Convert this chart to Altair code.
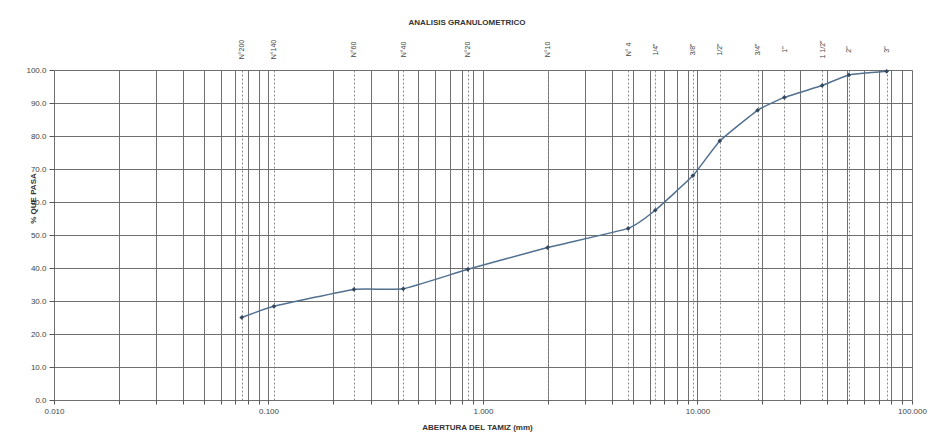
import altair as alt
import pandas as pd

# Sieve data
sieve_names = ["N°200", "N°140", "N°60", "N°40", "N°20", "N°10", "N° 4",
               "1/4\"", "3/8\"", "1/2\"", "3/4\"", "1\"", "1 1/2\"", "2\"", "3\""]
sieve_mm = [0.075, 0.106, 0.25, 0.425, 0.85, 2.0, 4.75,
            6.35, 9.525, 12.7, 19.05, 25.4, 38.1, 50.8, 76.2]
pct_pass = [25.0, 28.4, 33.5, 33.7, 39.6, 46.2, 52.0,
            57.5, 68.0, 78.5, 87.8, 91.7, 95.3, 98.5, 99.6]

# log grid tick values (1..9 x each decade)
grid_values = [round(m * 10 ** k, 6) for k in range(-2, 2) for m in range(1, 10)] + [100.0]
decade_labels = [0.01, 0.1, 1.0, 10.0, 100.0]
y_ticks = list(range(0, 101, 10))

df = pd.DataFrame({"mm": sieve_mm, "pct": pct_pass, "name": sieve_names})

FONT = "Liberation Sans"

label_expr = "".join(
    f"datum.value == {v} ? '{n}' : " for v, n in zip(sieve_mm, sieve_names)
) + "''"

x_scale = alt.Scale(type="log", domain=[0.01, 100], nice=False)
y_scale = alt.Scale(domain=[0, 100], nice=False)

base_x_axis = alt.Axis(
    values=grid_values,
    labelExpr="indexof(" + str(decade_labels) + ", datum.value) >= 0 ? format(datum.value, '.3f') : ''",
    grid=True, gridColor="#6f6f6f", gridWidth=1,
    tickColor="#555", tickSize=4, domain=False,
    labelFontSize=8, labelColor="#444", labelFont=FONT, labelPadding=3,
    labelFlush=False, labelOverlap=False,
    title="ABERTURA DEL TAMIZ (mm)", titleFont=FONT, titleFontSize=8,
    titleFontWeight="bold", titleColor="#333",
    titleX=423, titleY=27, titleAnchor="middle", titleAlign="center",
    titleBaseline="middle",
)

y_axis = alt.Axis(
    values=y_ticks, format=".1f", tickCount=11,
    grid=True, gridColor="#6f6f6f", gridWidth=1,
    tickColor="#555", tickSize=5, domain=False,
    labelFontSize=8, labelColor="#444", labelFont=FONT, labelPadding=3,
    labelOverlap=False, labelFlush=False,
    title="% QUE PASA", titleFont=FONT, titleFontSize=8, titleFontWeight="bold",
    titleColor="#333", titleAngle=270, titleX=-21, titleY=128,
    titleAlign="center", titleBaseline="middle",
)

line = alt.Chart(df).mark_line(
    color="#52708f", strokeWidth=1.5, interpolate="cardinal", tension=0.6
).encode(
    x=alt.X("mm:Q", scale=x_scale, axis=base_x_axis),
    y=alt.Y("pct:Q", scale=y_scale, axis=y_axis),
)

top_axis = alt.Axis(
    orient="top", values=sieve_mm,
    labelExpr=label_expr,
    labelAngle=270, labelAlign="center", labelBaseline="middle", labelPadding=21,
    labelFontSize=7, labelColor="#444", labelFont=FONT,
    labelOverlap=False, labelFlush=False,
    ticks=False, domain=False,
    grid=True, gridColor="#8a8a8a", gridDash=[2, 2], gridWidth=1,
    title=None,
)

points = alt.Chart(df).mark_point(
    shape="diamond", filled=True, color="#34495e", size=22, opacity=1
).encode(
    x=alt.X("mm:Q", scale=x_scale, axis=top_axis),
    y=alt.Y("pct:Q", scale=y_scale, axis=y_axis),
)

chart = alt.layer(line, points).resolve_axis(x="independent").properties(
    width=858, height=330,
    padding={"left": 54, "top": 70, "right": 21, "bottom": 37},
    autosize="none",
    title=alt.TitleParams(
        "ANALISIS GRANULOMETRICO", font=FONT, fontSize=8, fontWeight="bold",
        color="#333", anchor="middle", dx=-16, offset=12,
    ),
).configure_view(stroke="#555", strokeWidth=1.2).configure(background="white")

chart.save("out.html", embed_options={"renderer": "svg", "actions": False})
